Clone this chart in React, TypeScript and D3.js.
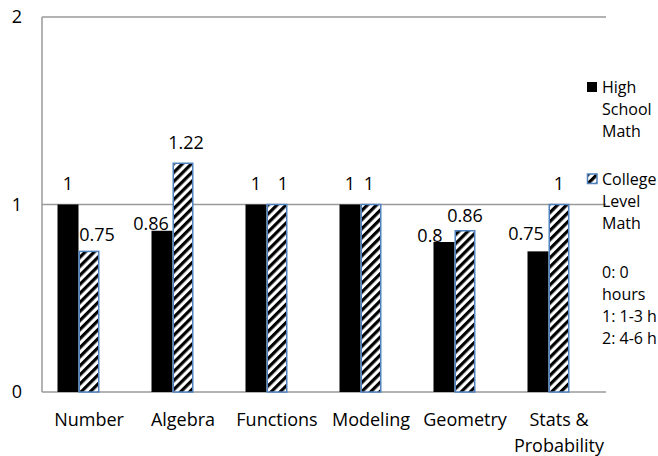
import React from "react";
import * as d3 from "d3";

const categories = ["Number", "Algebra", "Functions", "Modeling", "Geometry", "Stats & Probability"];
const categoryLines = [["Number"], ["Algebra"], ["Functions"], ["Modeling"], ["Geometry"], ["Stats &", "Probability"]];
const highSchool = [1, 0.86, 1, 1, 0.8, 0.75];
const collegeLevel = [0.75, 1.22, 1, 1, 0.86, 1];
const seriesKeys = ["hs", "cl", "hours"];
const legendLines = [["High", "School", "Math"], ["College", "Level", "Math"], ["0: 0", "hours", "1: 1-3 h", "2: 4-6 h"]];
const yTicks = [0, 1, 2];

// label nudges (layout only), [dx, dy]
const hsLabelNudge = [[0, 0], [-11, 14], [0, 0], [0, 0], [-14, 15], [-12, 3]];
const clLabelNudge = [[8, 4], [3, 0], [6, 0], [-2, 0], [0, 6], [0, 0]];

const W = 658, H = 456;
const left = 42, right = 606, top = 17, bottom = 392;
const FONT = "'Open Sans', sans-serif";
const FS = 18;
const LEG_FS = 16;
const GRAY = "#9a9a9a";
const BLUE = "#4f81bd";

export default function App() {
  const x = d3.scaleBand<string>().domain(categories).range([left, right]).paddingInner(31 / 94).paddingOuter(31 / 188);
  const xs = d3.scaleBand<string>().domain(seriesKeys).range([0, x.bandwidth()]);
  const y = d3.scaleLinear().domain([0, 2]).range([bottom, top]);

  const series = [
    { key: "hs", values: highSchool, nudge: hsLabelNudge },
    { key: "cl", values: collegeLevel, nudge: clLabelNudge },
  ];

  const legendTop = [87, 179, 272];
  const lineH = 22;

  return (
    <svg width={W} height={H} style={{ position: "absolute", left: 0, top: 0, background: "#fff" }} fontFamily={FONT} fontSize={FS}>
      <defs>
        <pattern id="hatch" patternUnits="userSpaceOnUse" width={6.4} height={6.4} patternTransform="rotate(45)">
          <rect x={0} y={0} width={6.4} height={6.4} fill="#fff" />
          <rect x={0} y={0} width={3.2} height={6.4} fill="#000" />
        </pattern>
      </defs>
      <rect x={0} y={0} width={W} height={H} fill="#fff" />
      {/* gridlines */}
      {yTicks.filter((t) => t > 0).map((t) => (
        <line key={t} x1={left} x2={right} y1={y(t)} y2={y(t)} stroke={GRAY} strokeWidth={1.5} />
      ))}
      {/* axes */}
      <line x1={left} x2={left} y1={top} y2={bottom} stroke={GRAY} strokeWidth={1.5} />
      <line x1={left} x2={right} y1={bottom} y2={bottom} stroke={GRAY} strokeWidth={1.5} />
      {/* y tick labels */}
      {yTicks.map((t) => (
        <text key={t} x={22} y={y(t)} dy="0.35em" textAnchor="end" fill="#000">{t}</text>
      ))}
      {/* bars */}
      {series.map((s) =>
        categories.map((c, i) => {
          const bx = (x(c) as number) + (xs(s.key) as number);
          const bw = xs.bandwidth();
          const by = y(s.values[i]);
          const bh = y(0) - by;
          return s.key === "hs" ? (
            <rect key={s.key + c} x={bx} y={by} width={bw} height={bh} fill="#000" />
          ) : (
            <rect key={s.key + c} x={bx + 0.75} y={by} width={bw - 1.5} height={bh} fill="url(#hatch)" stroke={BLUE} strokeWidth={1.5} />
          );
        })
      )}
      {/* value labels */}
      {series.map((s) =>
        categories.map((c, i) => {
          const cx = (x(c) as number) + (xs(s.key) as number) + xs.bandwidth() / 2;
          const cy = y(s.values[i]) - 21;
          return (
            <text key={"l" + s.key + c} x={cx + s.nudge[i][0]} y={cy + s.nudge[i][1]} dy="0.35em" textAnchor="middle" fill="#000">
              {String(s.values[i])}
            </text>
          );
        })
      )}
      {/* x labels */}
      {categories.map((c, i) => (
        <text key={"x" + c} textAnchor="middle" fill="#000">
          {categoryLines[i].map((ln, j) => (
            <tspan key={j} x={(x(c) as number) + x.bandwidth() / 2} y={420 + j * 26} dy="0.35em">{ln}</tspan>
          ))}
        </text>
      ))}
      {/* legend */}
      <rect x={587} y={legendTop[0] - 5} width={10} height={10} fill="#000" />
      <rect x={587.5} y={legendTop[1] - 5} width={9.5} height={9.5} fill="url(#hatch)" stroke={BLUE} strokeWidth={1.5} />
      {legendLines.map((lines, k) => (
        <text key={"lg" + k} fill="#000" fontSize={LEG_FS}>
          {lines.map((ln, j) => (
            <tspan key={j} x={602} y={legendTop[k] + j * lineH} dy="0.35em">{ln}</tspan>
          ))}
        </text>
      ))}
    </svg>
  );
}
